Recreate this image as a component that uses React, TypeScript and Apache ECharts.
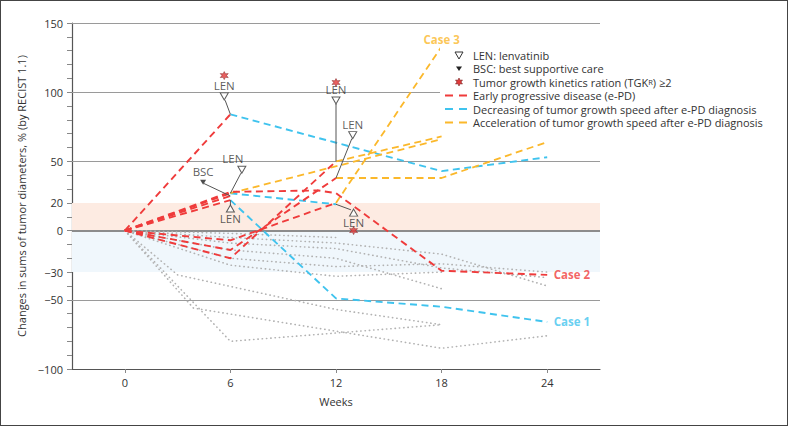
import { useEffect, useRef } from "react";
import * as echarts from "echarts";

const FONT = "'Open Sans', 'Noto Sans', sans-serif";
const RED = "#ef3b3b";
const BLUE = "#3fc3ee";
const YELLOW = "#fbb82b";
const GRAY = "#b2b2b2";
const INK = "#333333";

// Axes
const xTickWeeks = [0, 6, 12, 18, 24];
const yLabelValues = [150, 100, 50, 20, 0, -30, -50, -100];
const yMinorTicks = [-100, -90, -80, -70, -60, -50, -40, -30, -20, -10, 0, 10, 20, 30, 40, 50, 60, 70, 80, 90, 100, 110, 120, 130, 140, 150];
const gridLineValues = [150, 100, 50, -50];
const zeroLineValue = 0;
const progressionBand = [0, 20];
const responseBand = [-30, 0];

// Patients without e-PD (grey dotted)
const noPd1 = [[0, 0], [6, -2], [12, -5]];
const noPd2 = [[0, 0], [6, -5], [12, -9], [18, -17], [24, -40]];
const noPd3 = [[0, 0], [6, -9], [12, -13], [18, -27], [24, -34]];
const noPd4 = [[0, 0], [6, -14], [12, -20], [18, -42]];
const noPd5 = [[0, 0], [6, -20], [12, -26], [18, -24], [24, -30]];
const noPd6 = [[0, 0], [6, -25], [12, -33], [18, -30]];
const noPd7 = [[0, 0], [3, -32], [12, -57], [18, -68]];
const noPd8 = [[0, 0], [3.9, -56], [18, -85], [24, -76]];
const noPd9 = [[0, 0], [6, -80], [18, -68]];

// Early progressive disease segments (red)
const ePdA = [[0, 0], [6, 84]];
const ePdCase1 = [[0, 0], [6, 22]];
const ePdB = [[0, 0], [6, 27]];
const ePdC = [[0, 0], [6, 25]];
const ePdCase2 = [[0, 0], [6, 28], [11, 29], [12, 27], [18, -29], [24, -32]];
const ePdD = [[0, 0], [6, -20], [12, 50]];
const ePdE = [[0, 0], [6, -14], [12, 38]];
const ePdCase3 = [[0, 0], [6, -7], [12, 20]];

// Decreasing growth speed after e-PD (blue)
const decA = [[6, 84], [18, 43], [24, 53]];
const decCase1 = [[6, 22], [12, -49], [18, -55], [24, -66]];
const decB = [[6, 27], [12, 19]];

// Acceleration after e-PD (yellow)
const accC = [[6, 27], [18, 66]];
const accD = [[12, 50], [18, 68]];
const accE = [[12, 38], [18, 38], [24, 64]];
const accCase3 = [[12, 20], [18, 133]];

// Annotations
const lenDownMarks = [[5.65, 97], [12, 94], [12.95, 69], [6.65, 44]];
const lenUpMarks = [[6, 16], [13, 13]];
const bscMarks = [[4.45, 35]];
const tgkrStars = [[5.65, 112], [12, 107], [13, 0]];
const leaders = [
  [[5.7, 94.2], [6, 84]],
  [[12, 91.5], [12, 50]],
  [[12.9, 66.5], [12, 38]],
  [[6.6, 41.5], [6, 27]],
  [[4.5, 34], [6, 25]],
  [[6, 18.5], [6, 22]],
  [[12.85, 15], [12, 19]],
];

const STAR = "path://M0,-10L2.5,-4.33L8.66,-5L5,0L8.66,5L2.5,4.33L0,10L-2.5,4.33L-8.66,5L-5,0L-8.66,-5L-2.5,-4.33Z";
const TRI_DOWN = "path://M0,0L10,0L5,8.66Z";
const TRI_UP = "path://M5,0L10,8.66L0,8.66Z";

function starPoints(cx: number, cy: number, r: number) {
  const pts: number[][] = [];
  for (let i = 0; i < 12; i++) {
    const a = (-90 + i * 30) * Math.PI / 180;
    const rr = i % 2 === 0 ? r : r * 0.5;
    pts.push([cx + rr * Math.cos(a), cy + rr * Math.sin(a)]);
  }
  return pts;
}

function seg(data: any[], color: string, dash: number[], width: number, z: number, cap = "butt") {
  return {
    type: "line",
    data,
    z,
    silent: true,
    symbol: "none",
    lineStyle: { color, width, type: dash, cap },
    emphasis: { disabled: true },
  };
}

function caseLabel(pts: number[][], text: string, color: string, position: string, distance: number, z: number) {
  return {
    type: "scatter",
    z,
    silent: true,
    symbol: "circle",
    symbolSize: 1,
    itemStyle: { color: "rgba(0,0,0,0)" },
    label: {
      show: true,
      formatter: text,
      position,
      distance,
      color,
      fontWeight: "bold",
      fontSize: 11.5,
      fontFamily: FONT,
    },
    data: [pts[pts.length - 1]],
  };
}

export default function App() {
  const ref = useRef<HTMLDivElement>(null);
  useEffect(() => {
    if (!ref.current) return;
    const chart = echarts.init(ref.current, undefined, { renderer: "svg" });
    const dotted = [0.3, 4];
    const dash = [7, 4.5];
    const series: any[] = [];

    series.push({
      type: "line",
      data: [],
      z: 1,
      silent: true,
      markArea: {
        silent: true,
        z: 1,
        data: [
          [{ yAxis: progressionBand[0], itemStyle: { color: "#fdebe2" } }, { yAxis: progressionBand[1] }],
          [{ yAxis: responseBand[0], itemStyle: { color: "#f0f7fc" } }, { yAxis: responseBand[1] }],
        ],
      },
      markLine: {
        silent: true,
        z: 2,
        symbol: ["none", "none"],
        label: { show: false },
        data: [
          ...gridLineValues.map((v) => ({ yAxis: v, lineStyle: { color: "#9a9a9a", width: 1.2, type: "solid" } })),
          { yAxis: zeroLineValue, lineStyle: { color: "#8c8c8c", width: 2, type: "solid" } },
        ],
      },
    });

    [noPd1, noPd2, noPd3, noPd4, noPd5, noPd6, noPd7, noPd8, noPd9].forEach((d) =>
      series.push(seg(d, GRAY, dotted, 1.6, 3, "round"))
    );

    [ePdA, ePdCase1, ePdB, ePdC, ePdD, ePdE, ePdCase3, ePdCase2].forEach((d) => series.push(seg(d, RED, dash, 1.9, 5)));
    [decA, decB, decCase1].forEach((d) => series.push(seg(d, BLUE, dash, 1.9, 4)));
    [accC, accD, accE, accCase3].forEach((d) => series.push(seg(d, YELLOW, dash, 1.8, 4)));

    series.push(caseLabel(decCase1, "Case 1", BLUE, "right", 6, 9));
    series.push(caseLabel(ePdCase2, "Case 2", RED, "right", 6, 9));
    series.push(caseLabel(accCase3, "Case 3", YELLOW, "top", 1, 9));

    leaders.forEach((d) =>
      series.push({
        type: "line",
        data: d,
        z: 6,
        silent: true,
        symbol: "none",
        lineStyle: { color: "#555", width: 1 },
      })
    );

    const annLabel = { fontSize: 11.5, color: INK, fontFamily: FONT };
    series.push({
      type: "scatter",
      z: 7,
      silent: true,
      symbol: TRI_DOWN,
      symbolSize: [8, 7],
      itemStyle: { color: "#fff", borderColor: INK, borderWidth: 1 },
      label: { show: true, position: "top", distance: 1, formatter: "LEN", ...annLabel },
      data: lenDownMarks.map((p, i) => (i === 3 ? { value: p, label: { offset: [-9, 0] } } : p)),
    });
    series.push({
      type: "scatter",
      z: 7,
      silent: true,
      symbol: TRI_UP,
      symbolSize: [8, 7],
      itemStyle: { color: "#fff", borderColor: INK, borderWidth: 1 },
      label: { show: true, position: "bottom", distance: 0, formatter: "LEN", ...annLabel },
      data: lenUpMarks,
    });
    series.push({
      type: "scatter",
      z: 7,
      silent: true,
      symbol: TRI_DOWN,
      symbolSize: [6, 5],
      itemStyle: { color: "#222" },
      label: { show: true, position: "top", distance: 2, formatter: "BSC", ...annLabel },
      data: bscMarks,
    });
    series.push({
      type: "scatter",
      z: 8,
      silent: true,
      symbol: STAR,
      symbolSize: 8,
      itemStyle: { color: "#e23a3a", borderColor: "#7a2020", borderWidth: 0.6 },
      data: tgkrStars,
    });

    const lx = 459;
    const tx = 473;
    const rows = [55, 68.5, 82, 95.5, 109, 122.5];
    const txt = (y: number, text: string, rich?: any) => ({
      type: "text",
      x: tx,
      y,
      z: 20,
      style: {
        text,
        fill: INK,
        fontSize: 11,
        lineHeight: 12,
        fontFamily: FONT,
        verticalAlign: "middle",
        align: "left",
        rich,
      },
    });
    const dashLine = (y: number, color: string) => ({
      type: "line",
      z: 20,
      shape: { x1: 445, y1: y, x2: 468, y2: y },
      style: { stroke: color, lineWidth: 2, lineDash: [8, 6] },
    });

    const option: any = {
      animation: false,
      backgroundColor: "#fff",
      textStyle: { fontFamily: FONT },
      grid: { left: 72, right: 188, top: 23, bottom: 57 },
      xAxis: {
        type: "value",
        min: -3,
        max: 27,
        name: "Weeks",
        nameLocation: "middle",
        nameGap: 27,
        nameTextStyle: { fontSize: 11, color: INK, fontFamily: FONT },
        axisLine: { show: true, onZero: false, lineStyle: { color: "#555", width: 1.2 } },
        axisTick: { show: true, customValues: xTickWeeks, length: 4, lineStyle: { color: "#888" } },
        axisLabel: { customValues: xTickWeeks, margin: 8, fontSize: 11, color: INK, fontFamily: FONT },
        splitLine: { show: false },
      },
      yAxis: {
        type: "value",
        min: -100,
        max: 150,
        name: "Changes in sums of tumor diameters, % (by RECIST 1.1)",
        nameLocation: "middle",
        nameGap: 39,
        nameTextStyle: { fontSize: 11, color: INK, fontFamily: FONT },
        axisLine: { show: true, onZero: false, lineStyle: { color: "#555", width: 1.2 } },
        axisTick: { show: true, customValues: yMinorTicks, length: 5, lineStyle: { color: "#888" } },
        axisLabel: {
          customValues: yLabelValues,
          margin: 9,
          fontSize: 11,
          color: INK,
          fontFamily: FONT,
          formatter: (v: number) => (v < 0 ? "\u2212" + Math.abs(v) : String(v)),
        },
        splitLine: { show: false },
      },
      series,
      graphic: [
        { type: "rect", z: 19, shape: { x: 440, y: 46, width: 161, height: 84 }, style: { fill: "#fff" } },
        {
          type: "polygon",
          z: 20,
          shape: { points: [[455, 52], [463, 52], [459, 59]] },
          style: { fill: "#fff", stroke: INK, lineWidth: 1 },
        },
        {
          type: "polygon",
          z: 20,
          shape: { points: [[456, 66.5], [462, 66.5], [459, 71]] },
          style: { fill: "#222" },
        },
        {
          type: "polygon",
          z: 20,
          shape: { points: starPoints(lx, rows[2], 4) },
          style: { fill: "#e23a3a", stroke: "#7a2020", lineWidth: 0.6 },
        },
        dashLine(rows[3], RED),
        dashLine(rows[4], BLUE),
        dashLine(rows[5], YELLOW),
        txt(rows[0], "LEN: lenvatinib"),
        txt(rows[1], "BSC: best supportive care"),
        txt(rows[2], "Tumor growth kinetics ration (TGK{s|R}) \u22652", {
          s: { fontSize: 7.5, fontFamily: FONT, fill: INK },
        }),
        txt(rows[3], "Early progressive disease (e-PD)"),
        txt(rows[4], "Decreasing of tumor growth speed after e-PD diagnosis"),
        txt(rows[5], "Acceleration of tumor growth speed after e-PD diagnosis"),
      ],
    };
    chart.setOption(option);
    return () => chart.dispose();
  }, []);

  return (
    <div style={{ position: "fixed", left: 0, top: 0, width: 788, height: 426, background: "#fff" }}>
      <div ref={ref} style={{ position: "absolute", left: 0, top: 0, width: 788, height: 426 }} />
      <div
        style={{
          position: "absolute",
          left: 0,
          top: 0,
          width: 788,
          height: 426,
          boxSizing: "border-box",
          border: "1px solid #444",
          pointerEvents: "none",
        }}
      />
    </div>
  );
}
